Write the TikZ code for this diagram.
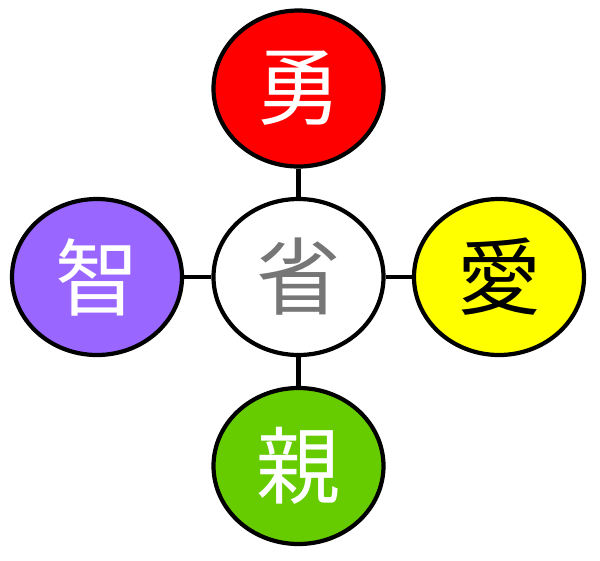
\documentclass[tikz,border=0pt]{standalone}
\usetikzlibrary{shapes.geometric}
\usepackage{fontspec}
\newfontfamily\cjk{Noto Sans CJK JP}
\definecolor{cred}{HTML}{FF0000}
\definecolor{cpurple}{HTML}{9966FF}
\definecolor{cyellow}{HTML}{FFFF00}
\definecolor{cgreen}{HTML}{66CC00}
\definecolor{cgray}{HTML}{767676}
\begin{document}
\begin{tikzpicture}[x=1pt,y=-1pt,
  virtue/.style={ellipse, draw=black, line width=4.2pt, minimum width=170pt, minimum height=156pt, inner sep=0pt,
    font=\cjk\fontsize{84}{84}\selectfont},
  link/.style={line width=4.2pt}]
\useasboundingbox (0,0) rectangle (600,560);
\node[virtue, fill=cred, text=white] (yu) at (298.5,88.5) {勇};
\node[virtue, fill=white, text=cgray] (sei) at (298.5,277) {省};
\node[virtue, fill=cpurple, text=white] (chi) at (97,277) {智};
\node[virtue, fill=cyellow, text=black] (ai) at (499,277) {愛};
\node[virtue, fill=cgreen, text=white] (shin) at (298.5,466) {親};
\draw[link] (yu) -- (sei);
\draw[link] (sei) -- (shin);
\draw[link] (chi) -- (sei);
\draw[link] (sei) -- (ai);
\end{tikzpicture}
\end{document}
